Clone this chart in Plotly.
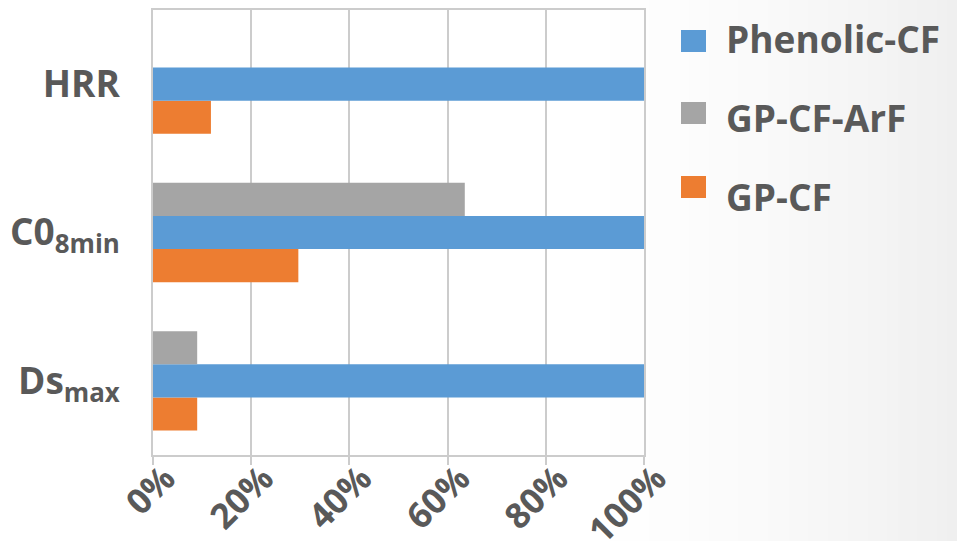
import plotly.graph_objects as go

# Data (relative values, Phenolic-CF = 100 %)
categories = ["Ds<sub>max</sub>", "C0<sub>8min</sub>", "HRR"]
series_names = ["Phenolic-CF", "GP-CF-ArF", "GP-CF"]
phenolic_cf = [1.00, 1.00, 1.00]
gp_cf_arf = [0.09, 0.635, None]
gp_cf = [0.09, 0.296, 0.118]
colors = {"Phenolic-CF": "#5b9bd5", "GP-CF-ArF": "#a5a5a5", "GP-CF": "#ed7d31"}
tick_vals = [0, 0.2, 0.4, 0.6, 0.8, 1.0]

W, H = 957, 541
ML, MR, MT, MB = 153, 313, 10, 86
PW, PH = W - ML - MR, H - MT - MB
TXT = "#595959"
FONT = "Open Sans"


def px_x(px):
    return (px - ML) / PW


def px_y(py):
    return (H - MB - py) / PH


fig = go.Figure()
# trace order bottom-to-top inside each group: orange, blue, gray
for name, vals in [("GP-CF", gp_cf), ("Phenolic-CF", phenolic_cf), ("GP-CF-ArF", gp_cf_arf)]:
    fig.add_trace(go.Bar(
        y=categories, x=vals, name=name, orientation="h",
        marker=dict(color=colors[name], line=dict(width=0)),
        showlegend=False,
    ))

# soft grey gradient towards the right edge
shapes = []
n = 40
x0px, x1px = 560, W
for i in range(n):
    a = x0px + (x1px - x0px) * i / n
    b = x0px + (x1px - x0px) * (i + 1) / n
    g = int(round(255 - 16 * ((i + 0.5) / n) ** 1.6))
    shapes.append(dict(type="rect", xref="paper", yref="paper",
                       x0=px_x(a), x1=px_x(b) + 0.002,
                       y0=-1, y1=2, layer="below",
                       line=dict(width=0), fillcolor=f"rgb({g},{g},{g})"))

# legend: coloured squares with labels
annotations = []
legend_rows = [("Phenolic-CF", 41, 39), ("GP-CF-ArF", 113, 117), ("GP-CF", 187, 196)]
for name, sq_y, txt_y in legend_rows:
    shapes.append(dict(type="rect", xref="paper", yref="paper",
                       x0=px_x(681), x1=px_x(706),
                       y0=px_y(sq_y + 11), y1=px_y(sq_y - 11),
                       line=dict(width=0), fillcolor=colors[name], layer="above"))
    annotations.append(dict(xref="paper", yref="paper", x=px_x(724), y=px_y(txt_y),
                            xanchor="left", yanchor="middle", showarrow=False,
                            text=name, font=dict(family=FONT, size=37, color=TXT, weight="bold")))

fig.update_layout(
    width=W, height=H,
    margin=dict(l=ML, r=MR, t=MT, b=MB, pad=0, autoexpand=False),
    paper_bgcolor="white", plot_bgcolor="rgba(0,0,0,0)",
    barmode="group", bargap=0.33, bargroupgap=0,
    showlegend=False,
    shapes=shapes, annotations=annotations,
    xaxis=dict(
        range=[0, 1], tickvals=tick_vals, tickformat=".0%", tickangle=-45,
        showgrid=True, gridcolor="#cccccc", gridwidth=1.5,
        showline=True, linecolor="#cccccc", linewidth=1.5, mirror=True,
        ticks="outside", ticklen=8, tickcolor="#cccccc", tickwidth=1.5,
        ticklabelstandoff=-21, ticklabelshift=12,
        zeroline=False, fixedrange=True, automargin=False,
        tickfont=dict(family=FONT, size=35, color=TXT, weight="bold"),
    ),
    yaxis=dict(
        categoryorder="array", categoryarray=categories,
        showgrid=False, showline=True, linecolor="#cccccc", linewidth=1.5, mirror=True,
        ticks="", ticklabelstandoff=24, zeroline=False, automargin=False,
        tickfont=dict(family=FONT, size=37, color=TXT, weight="bold"),
    ),
)

fig.write_html("out.html")
